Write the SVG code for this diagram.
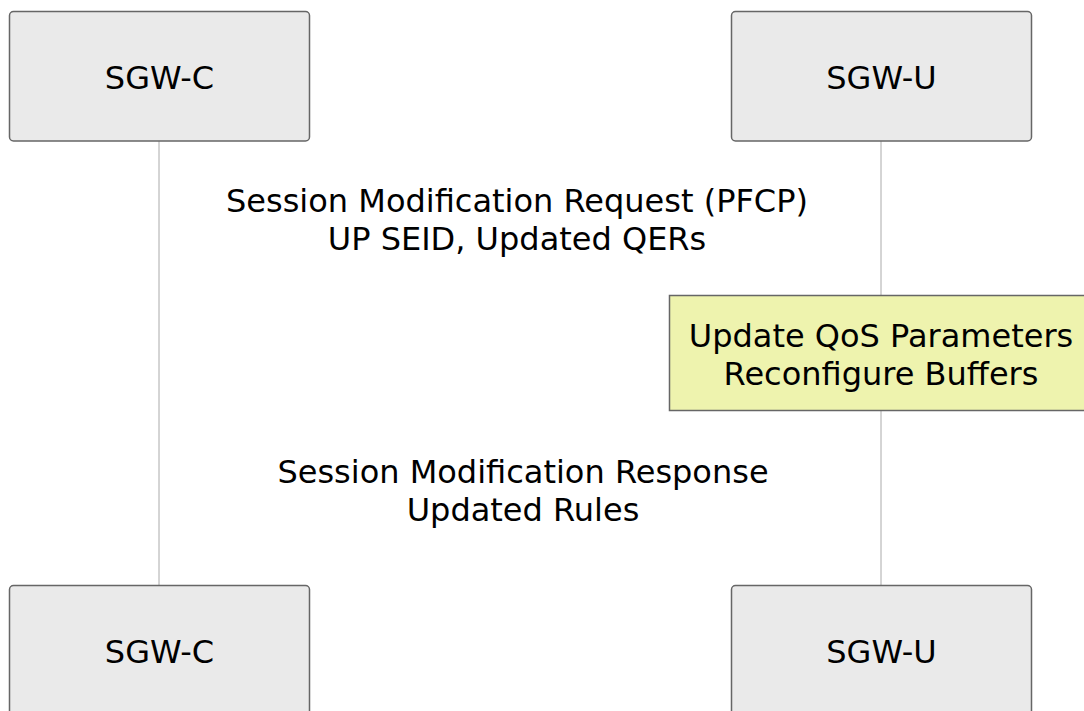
<svg xmlns="http://www.w3.org/2000/svg" width="1084" height="711" viewBox="0 0 1084 711">
<style>
text{font-family:"DejaVu Sans","Liberation Sans",sans-serif;font-size:32px;fill:#000;text-anchor:middle}
.actor{fill:#eaeaea;stroke:#666;stroke-width:1.5}
.note{fill:#eef3ae;stroke:#666;stroke-width:1.5}
.life{stroke:#aaa;stroke-width:1}
</style>
<rect width="1084" height="711" fill="#fff"/>
<g id="connectors">
<line class="life" x1="159" y1="141" x2="159" y2="585"/>
<line class="life" x1="881" y1="141" x2="881" y2="585"/>
<text x="517" y="212">Session Modification Request (PFCP)</text>
<text x="517" y="250">UP SEID, Updated QERs</text>
<text x="523" y="483">Session Modification Response</text>
<text x="523" y="521">Updated Rules</text>
</g>
<g id="sgwc-top"><rect class="actor" x="9.5" y="11.5" width="300" height="129.5" rx="4"/><text x="159.5" y="88.5">SGW-C</text></g>
<g id="sgwu-top"><rect class="actor" x="731.5" y="11.5" width="300" height="129.5" rx="4"/><text x="881.5" y="88.5">SGW-U</text></g>
<g id="note"><rect class="note" x="669.5" y="295.5" width="424" height="115"/><text x="881" y="347">Update QoS Parameters</text><text x="881" y="385">Reconfigure Buffers</text></g>
<g id="sgwc-bottom"><rect class="actor" x="9.5" y="585.5" width="300" height="130" rx="4"/><text x="159.5" y="663">SGW-C</text></g>
<g id="sgwu-bottom"><rect class="actor" x="731.5" y="585.5" width="300" height="130" rx="4"/><text x="881.5" y="663">SGW-U</text></g>
</svg>
